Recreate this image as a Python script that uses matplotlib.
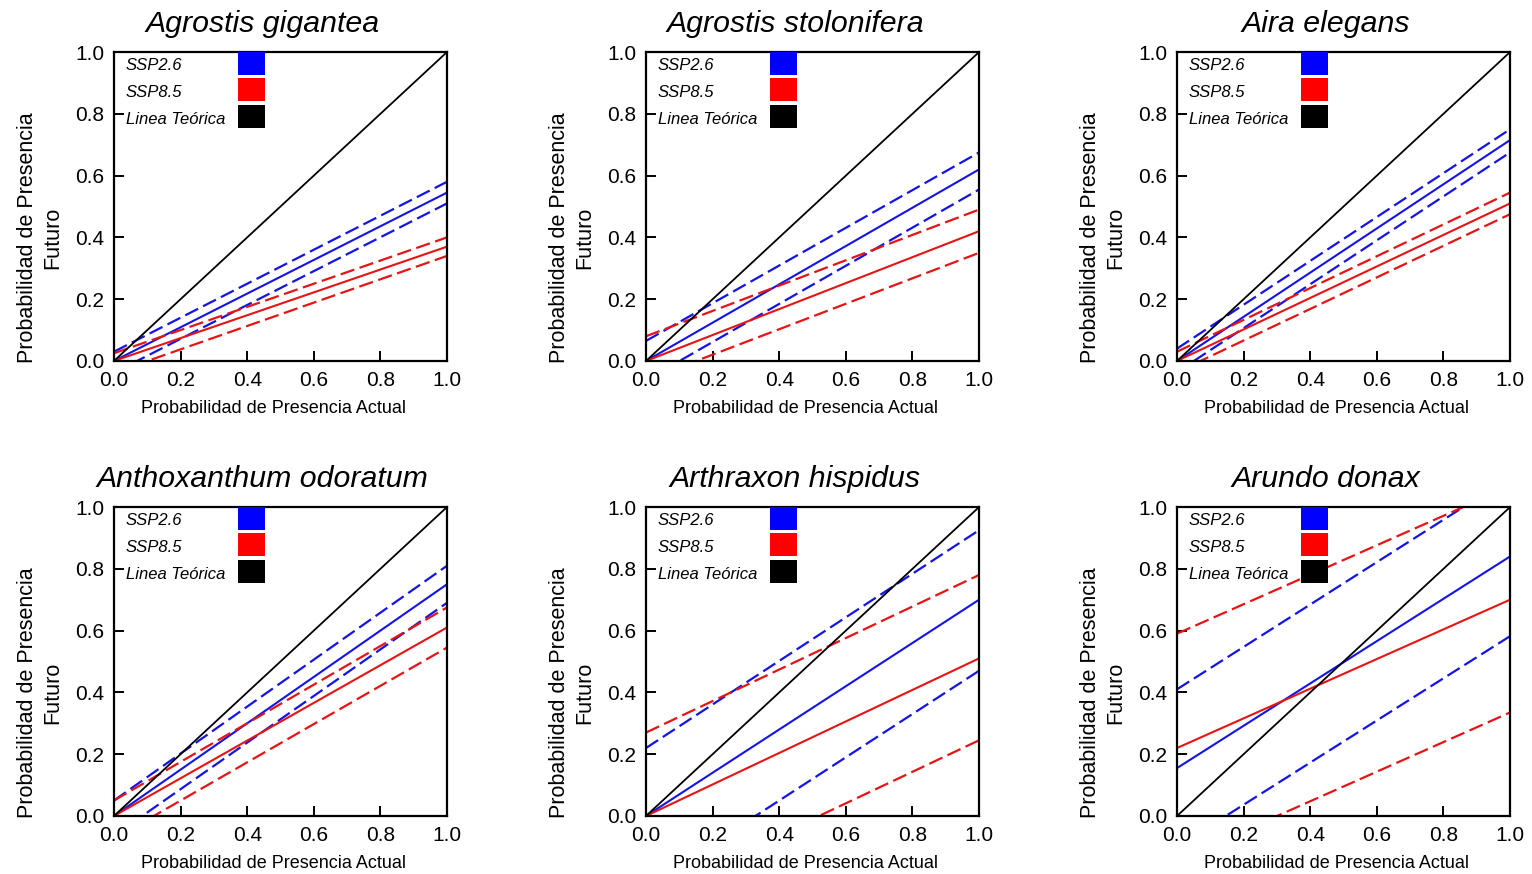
import numpy as np
import matplotlib
matplotlib.use("Agg")
import matplotlib.pyplot as plt
from matplotlib.patches import Rectangle

plt.rcParams['font.family'] = ['Liberation Sans', 'DejaVu Sans']

# species shown in each panel (row by row)
species = ["Agrostis gigantea", "Agrostis stolonifera", "Aira elegans",
           "Anthoxanthum odoratum", "Arthraxon hispidus", "Arundo donax"]

# fitted lines y = a + b*x
# SSP2.6 (blue)
ssp26_a = [0.000, 0.000, 0.000, 0.000, 0.000, 0.155]
ssp26_b = [0.545, 0.620, 0.715, 0.750, 0.700, 0.685]
ssp26_up_a = [0.030, 0.065, 0.040, 0.050, 0.220, 0.410]
ssp26_up_b = [0.550, 0.610, 0.710, 0.760, 0.705, 0.686]
ssp26_lo_a = [-0.038, -0.062, -0.036, -0.064, -0.230, -0.100]
ssp26_lo_b = [0.548, 0.617, 0.711, 0.754, 0.700, 0.682]

# SSP8.5 (red)
ssp85_a = [0.000, 0.000, 0.000, 0.000, 0.000, 0.220]
ssp85_b = [0.370, 0.420, 0.510, 0.610, 0.510, 0.480]
ssp85_up_a = [0.025, 0.080, 0.030, 0.050, 0.270, 0.590]
ssp85_up_b = [0.375, 0.410, 0.515, 0.625, 0.510, 0.477]
ssp85_lo_a = [-0.038, -0.062, -0.036, -0.074, -0.265, -0.144]
ssp85_lo_b = [0.378, 0.412, 0.511, 0.619, 0.510, 0.479]

legend_labels = ["SSP2.6", "SSP8.5", "Linea Teórica"]
legend_colors = ["#0000ff", "#ff0000", "#000000"]
ticks = [0.0, 0.2, 0.4, 0.6, 0.8, 1.0]

blue = "#1414e6"
red = "#e61414"
dash = (6.5, 2.5)

fig = plt.figure(figsize=(15.32, 8.74), dpi=100)

lefts = [0.0744, 0.4217, 0.7683]
bottoms = [0.587, 0.0664]
w, h = 0.2174, 0.3535

x = np.array([0.0, 1.0])

for i, name in enumerate(species):
    row, col = divmod(i, 3)
    ax = fig.add_axes([lefts[col], bottoms[row], w, h])

    # SSP2.6
    ax.plot(x, ssp26_a[i] + ssp26_b[i] * x, color=blue, lw=1.5)
    ax.plot(x, ssp26_up_a[i] + ssp26_up_b[i] * x, color=blue, lw=1.6, dashes=dash)
    ax.plot(x, ssp26_lo_a[i] + ssp26_lo_b[i] * x, color=blue, lw=1.6, dashes=dash)
    # SSP8.5
    ax.plot(x, ssp85_a[i] + ssp85_b[i] * x, color=red, lw=1.5)
    ax.plot(x, ssp85_up_a[i] + ssp85_up_b[i] * x, color=red, lw=1.6, dashes=dash)
    ax.plot(x, ssp85_lo_a[i] + ssp85_lo_b[i] * x, color=red, lw=1.6, dashes=dash)
    # 1:1 line
    ax.plot(x, x, color="black", lw=1.3)

    ax.set_xlim(0, 1)
    ax.set_ylim(0, 1)
    ax.set_xticks(ticks)
    ax.set_yticks(ticks)
    ax.set_xticklabels([f"{t:.1f}" for t in ticks])
    ax.set_yticklabels([f"{t:.1f}" for t in ticks])
    ax.tick_params(direction="in", length=7, width=1.4, labelsize=15, pad=7)
    for s in ax.spines.values():
        s.set_linewidth(1.6)

    ax.set_xlabel("Probabilidad de Presencia Actual", fontsize=13)
    ax.xaxis.set_label_coords(0.478, -0.125)
    ax.set_ylabel("Probabilidad de Presencia\nFuturo", fontsize=15.5, linespacing=1.25)
    ax.yaxis.set_label_coords(-0.152, 0.4)

    ax.text(0.447, 1.066, name, transform=ax.transAxes, ha="center",
            va="baseline", fontsize=21.8, style="italic")

    # legend drawn by hand: labels on the left, colour squares next to them
    sq_top = [1.0, 0.916, 0.828]
    sq_h = 0.074
    text_y = [0.955, 0.868, 0.782]
    for lab, c, t, ty in zip(legend_labels, legend_colors, sq_top, text_y):
        ax.add_patch(Rectangle((0.372, t - sq_h), 0.081, sq_h, transform=ax.transAxes,
                               facecolor=c, edgecolor="none", zorder=5))
        ax.text(0.035, ty, lab, transform=ax.transAxes, ha="left", va="center",
                fontsize=12, style="italic", zorder=5)

fig.savefig("out.png", dpi=100)
plt.close(fig)
